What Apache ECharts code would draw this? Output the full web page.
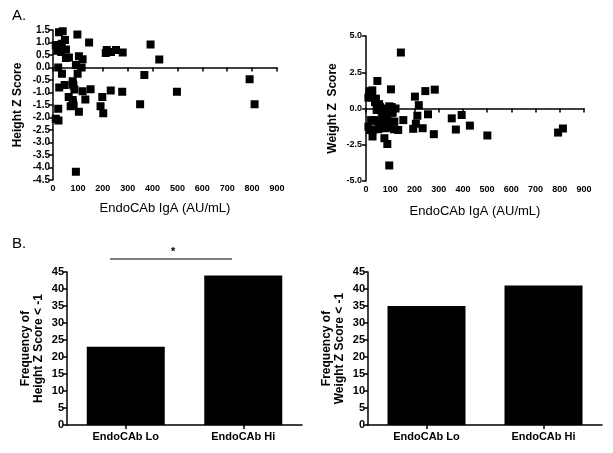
<!DOCTYPE html>
<html><head><meta charset="utf-8">
<script src="https://cdn.jsdelivr.net/npm/echarts@6/dist/echarts.min.js"></script>
<style>html,body{margin:0;padding:0;background:#fff}#c{width:613px;height:453px}</style>
</head><body><div id="c"></div>
<script>
// Panel A (left): EndoCAb IgA vs Height Z score
var heightX = [24,39,98,145,11,48,35,17,52,30,20,33,392,216,212,233,253,280,52,64,104,119,427,21,92,115,36,99,367,79,47,25,82,86,119,151,232,278,498,63,79,130,198,71,83,80,191,350,810,790,21,104,202,11,22,92,80];
var heightY = [1.41,1.45,1.32,1.0,0.9,1.1,0.95,0.67,0.72,0.85,0.88,0.62,0.92,0.7,0.58,0.62,0.7,0.6,0.38,0.4,0.45,0.33,0.32,0.0,0.1,0.0,-0.25,-0.25,-0.3,-0.55,-0.7,-0.8,-0.72,-0.88,-0.95,-0.87,-0.92,-0.97,-0.97,-1.18,-1.3,-1.28,-1.18,-1.55,-1.52,-1.4,-1.55,-1.47,-1.47,-0.47,-1.65,-1.77,-1.83,-2.05,-2.12,-4.17,-0.65];
// Panel A (right): EndoCAb IgA vs Weight Z score
var weightX = [144,47,26,14,103,245,284,202,218,10,25,41,37,54,58,44,96,106,82,122,65,85,110,212,256,354,395,154,21,37,67,88,102,117,44,82,10,16,27,27,51,78,96,115,133,195,206,234,280,371,429,501,793,813,76,88,96,60,70];
var weightY = [3.86,1.9,1.25,1.2,1.32,1.2,1.3,0.82,0.23,0.75,0.75,0.68,0.45,0.3,0.1,-0.1,0.15,0.1,0.0,0.0,-0.23,-0.34,-0.3,-0.5,-0.4,-0.68,-0.45,-0.8,-0.8,-0.8,-0.9,-0.68,-0.9,-0.9,-0.9,-1.14,-1.25,-1.48,-1.5,-1.93,-1.43,-1.36,-1.32,-1.43,-1.48,-1.4,-1.05,-1.36,-1.77,-1.45,-1.18,-1.86,-1.66,-1.38,-2.05,-2.45,-3.93,-1.1,-0.6];
// Panel B
var groups = ['EndoCAb Lo','EndoCAb Hi'];
var heightFreq = [23, 44];
var weightFreq = [35, 41];

function pairs(xs, ys){ return xs.map(function(x,i){ return [x, ys[i]]; }); }

var FONT = 'Liberation Sans, Arial, sans-serif';
var axisLine = {show:true, lineStyle:{color:'#000', width:1.5}};
var axisTick = {show:true, inside:false, length:4, lineStyle:{color:'#000', width:1.5}};

function valX(idx, gap){
  return {type:'value', gridIndex:idx, min:0, max:900, interval:100,
    axisLine:axisLine, axisTick:axisTick, splitLine:{show:false},
    axisLabel:{color:'#000', fontFamily:FONT, fontWeight:'bold', fontSize:9, margin:4},
    name:'EndoCAb IgA (AU/mL)', nameLocation:'middle', nameGap:gap,
    nameTextStyle:{color:'#000', fontFamily:FONT, fontSize:13}};
}
function catX(idx){
  return {type:'category', gridIndex:idx, data:groups, axisLine:axisLine,
      axisTick:{show:true, alignWithLabel:true, length:4, lineStyle:{color:'#000', width:1.5}},
      axisLabel:{color:'#000', fontFamily:FONT, fontWeight:'bold', fontSize:11, margin:6}};
}

var option = {
  animation:false,
  backgroundColor:'#fff',
  grid:[
    {left:53, top:30, width:224, height:150},
    {left:366, top:36, width:218, height:145},
    {left:67, top:272, width:235, height:153},
    {left:368, top:272, width:234, height:153}
  ],
  xAxis:[ valX(0, 22), valX(1, 24), catX(2), catX(3) ],
  yAxis:[
    {type:'value', gridIndex:0, min:-4.5, max:1.5, interval:0.5,
      axisLine:axisLine, axisTick:axisTick, splitLine:{show:false},
      axisLabel:{color:'#000', fontFamily:FONT, fontWeight:'bold', fontSize:10, margin:3,
        formatter:function(v){return v.toFixed(1);}},
      name:'Height Z Score', nameLocation:'middle', nameGap:29,
      nameTextStyle:{color:'#000', fontFamily:FONT, fontWeight:'bold', fontSize:12}},
    {type:'value', gridIndex:1, min:-5, max:5, interval:2.5,
      axisLine:axisLine, axisTick:axisTick, splitLine:{show:false},
      axisLabel:{color:'#000', fontFamily:FONT, fontWeight:'bold', fontSize:9, margin:4,
        formatter:function(v){return v.toFixed(1);}},
      name:'Weight Z  Score', nameLocation:'middle', nameGap:27,
      nameTextStyle:{color:'#000', fontFamily:FONT, fontWeight:'bold', fontSize:12}},
    {type:'value', gridIndex:2, min:0, max:45, interval:5,
      axisLine:axisLine, axisTick:axisTick, splitLine:{show:false},
      axisLabel:{color:'#000', fontFamily:FONT, fontWeight:'bold', fontSize:11, margin:3},
      name:'Frequency of\nHeight Z Score < -1', nameLocation:'middle', nameGap:22,
      nameTextStyle:{color:'#000', fontFamily:FONT, fontWeight:'bold', fontSize:12, lineHeight:13}},
    {type:'value', gridIndex:3, min:0, max:45, interval:5,
      axisLine:axisLine, axisTick:axisTick, splitLine:{show:false},
      axisLabel:{color:'#000', fontFamily:FONT, fontWeight:'bold', fontSize:11, margin:3},
      name:'Frequency of\nWeight Z Score < -1', nameLocation:'middle', nameGap:22,
      nameTextStyle:{color:'#000', fontFamily:FONT, fontWeight:'bold', fontSize:12, lineHeight:13}}
  ],
  series:[
    {type:'scatter', xAxisIndex:0, yAxisIndex:0, data:pairs(heightX, heightY),
      symbol:'rect', symbolSize:8, itemStyle:{color:'#000', opacity:1}},
    {type:'scatter', xAxisIndex:1, yAxisIndex:1, data:pairs(weightX, weightY),
      symbol:'rect', symbolSize:8, itemStyle:{color:'#000', opacity:1}},
    {type:'bar', xAxisIndex:2, yAxisIndex:2, data:heightFreq, barWidth:78,
      itemStyle:{color:'#000'}},
    {type:'bar', xAxisIndex:3, yAxisIndex:3, data:weightFreq, barWidth:78,
      itemStyle:{color:'#000'}}
  ],
  graphic:[
    {type:'text', left:12, top:8, style:{text:'A.', fill:'#000', font:'15px '+FONT}},
    {type:'text', left:12, top:236, style:{text:'B.', fill:'#000', font:'15px '+FONT}},
    {type:'line', shape:{x1:110, y1:259, x2:232, y2:259}, style:{stroke:'#000', lineWidth:1.2}},
    {type:'text', x:171, y:246, style:{text:'*', fill:'#000', font:'bold 11px '+FONT}}
  ]
};
var chart = echarts.init(document.getElementById('c'), null, {renderer:'canvas'});
chart.setOption(option);
</script></body></html>
